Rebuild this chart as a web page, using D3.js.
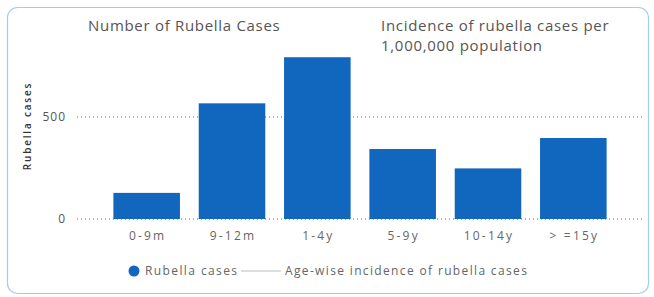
<!DOCTYPE html>
<html>
<head>
<meta charset="utf-8">
<script src="https://cdn.jsdelivr.net/npm/d3@7"></script>
<style>
  body { margin: 0; background: #fff; }
  svg text { font-family: "Segoe UI", "Open Sans", sans-serif; }
</style>
</head>
<body>
<svg width="654" height="297"></svg>
<script>
// age groups and case counts
var ageGroups = ["0-9m", "9-12m", "1-4y", "5-9y", "10-14y", "> =15y"];
var rubellaCases = [128, 567, 793, 343, 248, 397];
var yTicks = [0, 500];

var svg = d3.select("svg");

// card frame
svg.append("rect")
  .attr("x", 7.5).attr("y", 7.5)
  .attr("width", 641).attr("height", 286)
  .attr("rx", 10)
  .attr("fill", "#fff")
  .attr("stroke", "#a6c9ec")
  .attr("stroke-width", 1.2);

// scales
var x = d3.scaleBand()
  .domain(ageGroups)
  .range([104, 616])
  .paddingInner(0.22)
  .paddingOuter(0.11);

var y = d3.scaleLinear()
  .domain([0, 500])
  .range([219, 117]);

// dotted gridlines
svg.selectAll("line.grid")
  .data(yTicks)
  .enter()
  .append("line")
  .attr("class", "grid")
  .attr("x1", 77).attr("x2", 643)
  .attr("y1", function(d) { return y(d); })
  .attr("y2", function(d) { return y(d); })
  .attr("stroke", "#9a9a9a")
  .attr("stroke-width", 1.5)
  .attr("stroke-dasharray", "1,3");

// bars
svg.selectAll("rect.bar")
  .data(rubellaCases)
  .enter()
  .append("rect")
  .attr("class", "bar")
  .attr("x", function(d, i) { return x(ageGroups[i]); })
  .attr("y", function(d) { return y(d); })
  .attr("width", x.bandwidth())
  .attr("height", function(d) { return y(0) - y(d); })
  .attr("fill", "#1067bd");

// y axis labels
var yAxis = d3.axisLeft(y).tickValues(yTicks).tickSize(0).tickPadding(0);
svg.append("g")
  .attr("transform", "translate(66,0)")
  .call(yAxis)
  .call(function(g) { g.select(".domain").remove(); })
  .selectAll("text")
  .attr("fill", "#555")
  .style("font-size", "12px")
  .style("letter-spacing", "1px");

// x axis labels
var xAxis = d3.axisBottom(x).tickSize(0).tickPadding(0);
svg.append("g")
  .attr("transform", "translate(1,231)")
  .call(xAxis)
  .call(function(g) { g.select(".domain").remove(); })
  .selectAll("text")
  .attr("fill", "#666")
  .style("font-size", "12px")
  .style("letter-spacing", "2.2px");

// y title
svg.append("text")
  .attr("transform", "translate(31,126) rotate(-90)")
  .attr("text-anchor", "middle")
  .attr("fill", "#333")
  .style("font-size", "10px")
  .style("font-weight", "600")
  .style("letter-spacing", "1.8px")
  .text("Rubella cases");

// chart titles
var titleStyle = function(t) {
  t.attr("fill", "#555")
    .style("font-size", "15px")
    .style("letter-spacing", "0.7px");
};

svg.append("text")
  .attr("x", 88).attr("y", 31)
  .call(titleStyle)
  .text("Number of Rubella Cases");

svg.append("text")
  .attr("x", 381).attr("y", 31)
  .call(titleStyle)
  .text("Incidence of rubella cases per");

svg.append("text")
  .attr("x", 381).attr("y", 51)
  .call(titleStyle)
  .text("1,000,000 population");

// legend
var legend = svg.append("g").attr("transform", "translate(0,271)");
legend.append("circle")
  .attr("cx", 134).attr("cy", 0).attr("r", 5.5)
  .attr("fill", "#1067bd");
legend.append("text")
  .attr("x", 145).attr("y", 4)
  .attr("fill", "#666")
  .style("font-size", "12px")
  .style("letter-spacing", "1.4px")
  .text("Rubella cases");
legend.append("line")
  .attr("x1", 241).attr("x2", 281)
  .attr("y1", 0).attr("y2", 0)
  .attr("stroke", "#bbb")
  .attr("stroke-width", 1);
legend.append("text")
  .attr("x", 285).attr("y", 4)
  .attr("fill", "#666")
  .style("font-size", "12px")
  .style("letter-spacing", "1.35px")
  .text("Age-wise incidence of rubella cases");
</script>
</body>
</html>
